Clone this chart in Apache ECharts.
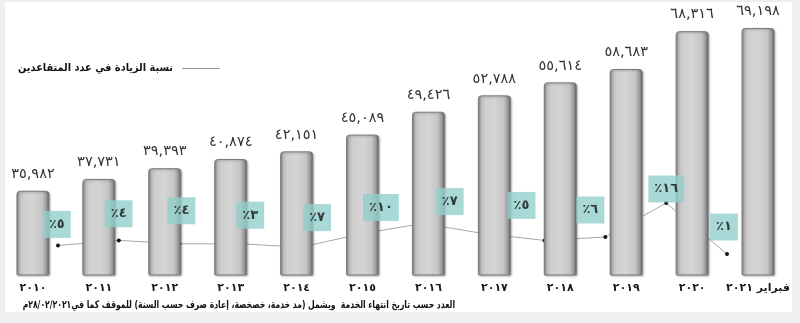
<!DOCTYPE html>
<html>
<head>
<meta charset="utf-8">
<script src="https://cdn.jsdelivr.net/npm/echarts@6/dist/echarts.min.js"></script>
<style>
html,body{margin:0;padding:0;background:#efefef;}
#c{width:800px;height:323px;}
</style>
</head>
<body>
<div id="c"></div>
<script>
// ---- data ----
const categories = ['٢٠١٠','٢٠١١','٢٠١٢','٢٠١٣','٢٠١٤','٢٠١٥','٢٠١٦','٢٠١٧','٢٠١٨','٢٠١٩','٢٠٢٠','فبراير ٢٠٢١'];
const retirees = [35982, 37731, 39393, 40874, 42151, 45089, 49426, 52788, 55614, 58683, 68316, 69198];
// yearly increase (%) ; first point is unlabeled in the original
const increasePct = [3.5, 5, 4, 4, 3, 7, 10, 7, 5, 6, 16, 1];
const legendName = 'نسبة الزيادة في عدد المتقاعدين';
const footnote = 'العدد حسب تاريخ انتهاء الخدمة  ويشمل (مد خدمة، خصخصة، إعادة صرف حسب السنة) للموقف كما في٢٨/٠٢/٢٠٢١م';

// ---- layout (label box offsets relative to line points) ----
const boxOffsets = [[0,0],[-62,-16],[-61,-30],[-59,-33],[-51,-32],[-45,-16],[-42,-16],[-34,-32],[-23,-35],[-15,-27],[0,-14],[-3,-27]];

const AR = '٠١٢٣٤٥٦٧٨٩';
const toAr = s => String(s).replace(/\d/g, d => AR[d]);
const FONT = 'DejaVu Sans';
const NARROW = '"DejaVu Sans Condensed", "DejaVu Sans"';

// fit a font size so a text spans a target width
const mctx = document.createElement('canvas').getContext('2d');
function fitSize(text, target, weight) {
  mctx.font = weight + ' 20px ' + NARROW;
  const w = mctx.measureText(text).width;
  return Math.min(14, 20 * target / w);
}
const footSize = fitSize(footnote, 433, 'bold');
const legSize = fitSize(legendName, 155, 'bold');

const chart = echarts.init(document.getElementById('c'), null, {renderer:'canvas'});
chart.setOption({
  backgroundColor: '#efefef',
  animation: false,
  graphic: [
    {type:'rect', z:-10, shape:{x:5,y:2,width:787,height:310}, style:{fill:'#ffffff'}},
    {type:'text', z:10, x:455, y:305, scaleY:1.25, style:{text: footnote, x:0, y:0, align:'right', verticalAlign:'middle',
      font:'bold ' + footSize.toFixed(2) + 'px ' + NARROW, fill:'#111'}}
  ],
  legend: {
    data: [legendName],
    right: 575, top: 58,
    align: 'right',
    icon: 'rect', itemWidth: 38, itemHeight: 1, itemGap: 6,
    itemStyle: {color:'#9a9a9a'},
    textStyle: {fontFamily: NARROW, fontSize: legSize, fontWeight:'bold', color:'#111', padding:[0,4,0,0]}
  },
  grid: [
    {left: -2, right: 9, top: 10, bottom: 48},
    {left: 58, right: 73, top: 189.4, bottom: 65.6}
  ],
  xAxis: [
    {type:'category', gridIndex:0, data: categories, boundaryGap:true,
     axisLine:{show:false}, axisTick:{show:false},
     axisLabel:{interval:0, margin:8, fontFamily:FONT, fontSize:11, fontWeight:'bold', color:'#1a1a1a'}},
    {type:'category', gridIndex:1, data: categories, boundaryGap:false, show:false}
  ],
  yAxis: [
    {type:'log', gridIndex:0, min:25650, max:74381, show:false, splitLine:{show:false}},
    {type:'value', gridIndex:1, min:0, max:20, show:false, splitLine:{show:false}}
  ],
  series: [
    {
      type:'line', name: legendName, xAxisIndex:1, yAxisIndex:1, z:1,
      data: increasePct,
      symbol:'circle', symbolSize:4,
      itemStyle:{color:'#111'},
      lineStyle:{color:'#a8a8a8', width:1}
    },
    {
      type:'bar', xAxisIndex:0, yAxisIndex:0, z:2, barWidth:33,
      data: retirees,
      itemStyle:{
        borderRadius:[3,3,1,1],
        borderColor:'#7a7a7a', borderWidth:1,
        color:{type:'linear', x:0, y:0, x2:1, y2:0, colorStops:[
          {offset:0, color:'#8a8a8a'},
          {offset:0.1, color:'#bcbcbc'},
          {offset:0.22, color:'#cfcfcf'},
          {offset:0.5, color:'#d4d4d4'},
          {offset:0.78, color:'#c6c6c6'},
          {offset:0.9, color:'#9c9c9c'},
          {offset:1, color:'#5c5c5c'}
        ]},
        shadowColor:'rgba(0,0,0,0.25)', shadowBlur:2, shadowOffsetX:1, shadowOffsetY:1
      },
      label:{show:true, position:'top', distance:9, fontFamily:FONT, fontSize:14.5, color:'#333',
        formatter: p => toAr(p.value.toLocaleString('en-US'))}
    },
    {
      type:'scatter', xAxisIndex:1, yAxisIndex:1, z:5, symbolSize:0, silent:true,
      data: increasePct.map((v,i) => ({value:v, label:{show: i>0, offset: boxOffsets[i]}})),
      label:{position:'inside', formatter: p => '٪' + toAr(p.value),
        backgroundColor:'#93cfcd', padding:[8,6,6,6], fontFamily:FONT, fontSize:13, fontWeight:'bold', color:'#111'}
    }
  ]
});
</script>
</body>
</html>
